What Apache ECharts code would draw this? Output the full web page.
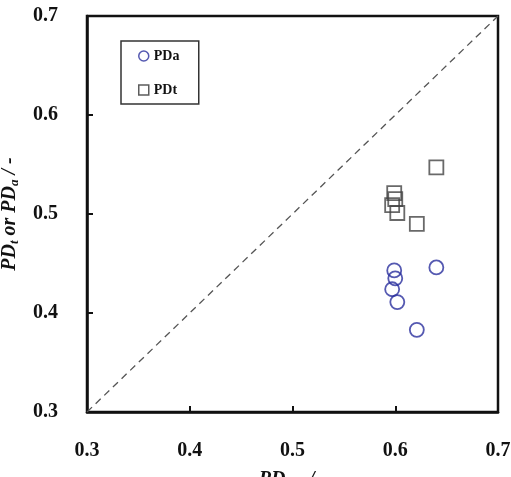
<!DOCTYPE html>
<html><head><meta charset="utf-8">
<script src="https://cdn.jsdelivr.net/npm/echarts@6/dist/echarts.min.js"></script>
<style>html,body{margin:0;padding:0;background:#fff}#c{width:511px;height:477px}</style>
</head><body><div id="c"></div>
<script>
const xTicks = [0.3, 0.4, 0.5, 0.6, 0.7];
const yTicks = [0.3, 0.4, 0.5, 0.6, 0.7];
const pdExp = [0.640, 0.599, 0.600, 0.597, 0.602, 0.621];
const pdA = [0.446, 0.443, 0.435, 0.424, 0.411, 0.383];
const pdT = [0.547, 0.521, 0.515, 0.509, 0.501, 0.490];
const diag = [[0.3, 0.3], [0.7, 0.7]];

const chart = echarts.init(document.getElementById('c'), null, {renderer: 'canvas'});
const font = '"Liberation Serif", "Times New Roman", serif';
const axisCommon = {
  type: 'value', min: 0.3, max: 0.7, interval: 0.1,
  axisLine: {show: true, lineStyle: {color: '#111', width: 2.5}},
  axisTick: {show: true, inside: true, length: 6, lineStyle: {color: '#111', width: 2}},
  splitLine: {show: false},
  axisLabel: {color: '#111', fontFamily: font, fontWeight: 'bold', fontSize: 20, formatter: v => v.toFixed(1)}
};
const nameRich = {
  m: {fontFamily: font, fontWeight: 'bold', fontStyle: 'italic', fontSize: 20, color: '#111'},
  s: {fontFamily: font, fontWeight: 'bold', fontStyle: 'italic', fontSize: 13, color: '#111', verticalAlign: 'bottom', padding: [9, 0, 0, 0]}
};
chart.setOption({
  animation: false,
  backgroundColor: '#fff',
  grid: {left: 87, right: 13, top: 16, bottom: 65, show: true, borderColor: '#111', borderWidth: 2.5,
         outerBoundsMode: 'none', containLabel: false},
  xAxis: Object.assign({}, axisCommon, {
    axisLabel: Object.assign({}, axisCommon.axisLabel, {margin: 29}),
    name: '{m|PD}{s|exp}{m| / -}', nameLocation: 'middle', nameGap: 57,
    nameTextStyle: {rich: nameRich}
  }),
  yAxis: Object.assign({}, axisCommon, {
    axisLabel: Object.assign({}, axisCommon.axisLabel, {margin: 29}),
    name: '{m|PD}{s|t}{m| or PD}{s|a}{m| / -}', nameLocation: 'middle', nameGap: 66,
    nameTextStyle: {rich: nameRich}
  }),
  legend: {
    show: true, orient: 'vertical', left: 121, top: 41,
    padding: [8, 8, 7, 17], itemGap: 20, itemWidth: 10, itemHeight: 10,
    borderColor: '#333', borderWidth: 1.5, backgroundColor: '#fff', borderRadius: 0,
    textStyle: {fontFamily: font, fontWeight: 'bold', fontSize: 14, color: '#111', width: 37, lineHeight: 14},
    data: [
      {name: 'PDa', icon: 'circle', itemStyle: {color: '#fff', borderColor: '#2b2f9e', borderWidth: 1.5}},
      {name: 'PDt', icon: 'rect', itemStyle: {color: '#fff', borderColor: '#333', borderWidth: 1.5}}
    ]
  },
  series: [
    {
      type: 'line', data: diag, showSymbol: false, silent: true,
      lineStyle: {color: '#555', width: 1.3, type: [7, 5]}
    },
    {
      name: 'PDa', type: 'scatter', symbol: 'circle', symbolSize: 14,
      data: pdExp.map((x, i) => [x, pdA[i]]),
      itemStyle: {color: 'rgba(0,0,0,0)', borderColor: '#2b2f9e', borderWidth: 1.8}
    },
    {
      name: 'PDt', type: 'scatter', symbol: 'rect', symbolSize: 14,
      data: pdExp.map((x, i) => [x, pdT[i]]),
      itemStyle: {color: 'rgba(0,0,0,0)', borderColor: '#444', borderWidth: 1.8}
    }
  ]
});
</script></body></html>
